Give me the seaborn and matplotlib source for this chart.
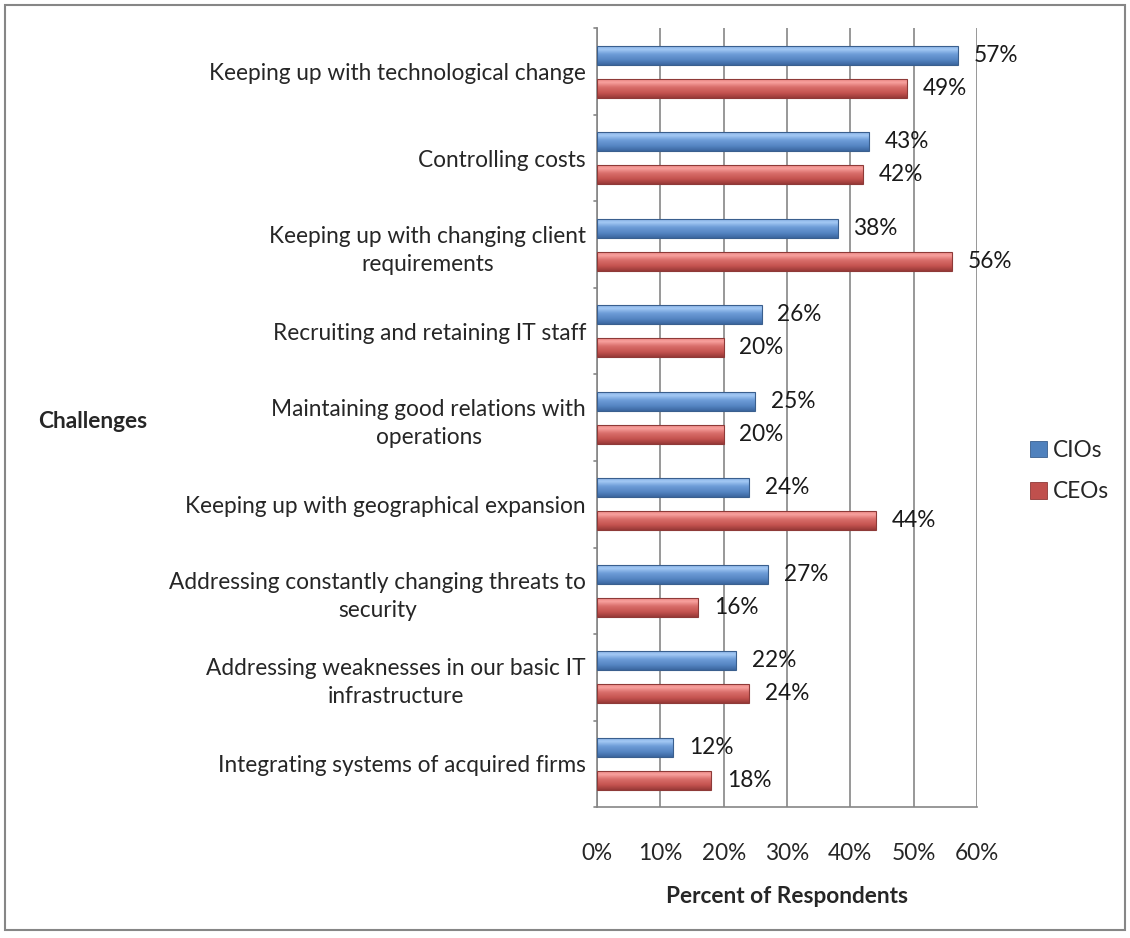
import numpy as np
import pandas as pd
import matplotlib
matplotlib.use("Agg")
import matplotlib.pyplot as plt
import seaborn as sns
from matplotlib.colors import LinearSegmentedColormap
from matplotlib.patches import Rectangle

challenges = [
    "Keeping up with technological change",
    "Controlling costs",
    "Keeping up with changing client\nrequirements",
    "Recruiting and retaining IT staff",
    "Maintaining good relations with\noperations",
    "Keeping up with geographical expansion",
    "Addressing constantly changing threats to\nsecurity",
    "Addressing weaknesses in our basic IT\ninfrastructure",
    "Integrating systems of acquired firms",
]
cio_pct = [57, 43, 38, 26, 25, 24, 27, 22, 12]
ceo_pct = [49, 42, 56, 20, 20, 44, 16, 24, 18]
groups = ["CIOs", "CEOs"]
x_ticks = [0, 10, 20, 30, 40, 50, 60]

df = pd.DataFrame({
    "Challenge": challenges * 2,
    "Group": [groups[0]] * len(challenges) + [groups[1]] * len(challenges),
    "Percent": cio_pct + ceo_pct,
})

sns.set_style("white")
plt.rcParams["font.family"] = ["Lato", "DejaVu Sans"]

FS = 16.3
base = {"CIOs": "#4F81BD", "CEOs": "#C0504D"}
edge = {"CIOs": "#3A5F8E", "CEOs": "#8E3A38"}
# vertical shading for each series, top to bottom
shades = {
    "CIOs": [(0.0, "#86B0E4"), (0.22, "#A2C8F4"), (0.45, "#6E9DD8"),
             (0.75, "#5585C2"), (1.0, "#3B669F")],
    "CEOs": [(0.0, "#EC8583"), (0.22, "#F7A09D"), (0.45, "#D96E6B"),
             (0.75, "#C4534F"), (1.0, "#973A38")],
}

fig = plt.figure(figsize=(11.3, 9.38), dpi=100)
ax = fig.add_axes([597 / 1130, 1 - 807 / 938, 380 / 1130, (807 - 28.5) / 938])

sns.barplot(data=df, y="Challenge", x="Percent", hue="Group", orient="h",
            palette=base, width=0.76, ax=ax, legend=False, saturation=1)

ax.set_xlim(0, 60)
ax.set_ylim(len(challenges) - 0.5, -0.5)

bar_h = 0.22
grad = np.linspace(0, 1, 64).reshape(-1, 1)
for container, grp in zip(ax.containers, groups):
    cmap = LinearSegmentedColormap.from_list(grp, shades[grp])
    for patch, val in zip(container.patches, df[df.Group == grp].Percent):
        yc = patch.get_y() + patch.get_height() / 2
        patch.set_y(yc - bar_h / 2)
        patch.set_height(bar_h)
        patch.set_edgecolor(edge[grp])
        patch.set_linewidth(0.8)
        patch.set_zorder(4)
        patch.set_facecolor("none")
        w = patch.get_width()
        im = ax.imshow(grad, cmap=cmap, aspect="auto", interpolation="bilinear",
                       extent=[0, w, yc + bar_h / 2, yc - bar_h / 2], zorder=3)
        im.set_clip_path(patch)
        ax.text(w + 2.5, yc, f"{val}%", va="center", ha="left", fontsize=FS,
                color="#1a1a1a", zorder=5)

ax.set_xticks(x_ticks)
ax.set_xticklabels([f"{t}%" for t in x_ticks], fontsize=FS)
ax.set_yticks(range(len(challenges)))
ax.set_yticklabels(challenges, fontsize=FS, multialignment="center",
                   linespacing=1.4)
ax.tick_params(axis="y", length=0, pad=8)
ax.tick_params(axis="x", length=6, color="#868686", pad=20, direction="out")

# category boundary ticks on the value axis
for b in np.arange(-0.5, len(challenges), 1.0):
    ax.plot([-0.009, 0], [b, b], transform=ax.get_yaxis_transform(),
            color="#868686", lw=1.2, clip_on=False)

ax.grid(axis="x", color="#868686", lw=1.2)
ax.set_axisbelow(True)
for s in ["top", "right"]:
    ax.spines[s].set_visible(False)
for s in ["left", "bottom"]:
    ax.spines[s].set_color("#868686")
    ax.spines[s].set_linewidth(1.2)

ax.set_xlabel("Percent of Respondents", fontsize=FS, fontweight="bold", labelpad=16)
ax.set_ylabel("")
fig.text(38 / 1130, 1 - 421 / 938, "Challenges", fontsize=FS, fontweight="bold",
         ha="left", va="center")

# legend
handles = [Rectangle((0, 0), 1, 1, facecolor=base[g], edgecolor=edge[g], lw=0.6)
           for g in groups]
fig.legend(handles, groups, loc="center left", bbox_to_anchor=(1030 / 1130, 1 - 471 / 938),
           frameon=False, fontsize=FS, handlelength=0.75, handleheight=0.75,
           handletextpad=0.25, labelspacing=0.9, borderaxespad=0, borderpad=0)

# outer chart border
fig.patches.append(Rectangle((5 / 1130, 8 / 938), 1120 / 1130, 925 / 938,
                             transform=fig.transFigure, fill=False,
                             edgecolor="#868686", lw=1.5))

fig.savefig("out.png", dpi=100)
